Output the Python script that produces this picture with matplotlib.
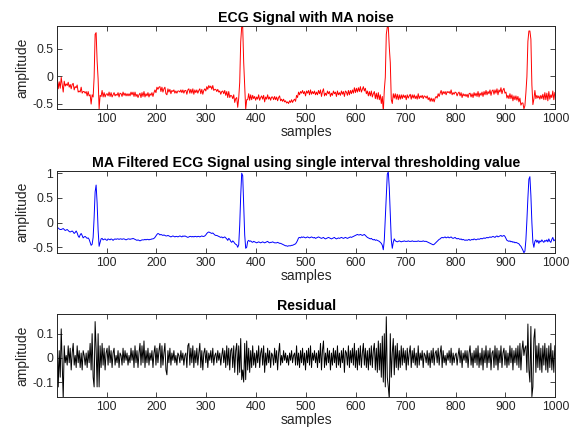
import numpy as np
import matplotlib
matplotlib.use("Agg")
import matplotlib.pyplot as plt

plt.rcParams['font.family'] = ['Liberation Sans', 'DejaVu Sans']
plt.rcParams['axes.unicode_minus'] = False

# sample positions (every 2nd sample of 1..1000)
samples = np.arange(1, 1000, 2)

# MA filtered ECG (blue)
filtered = np.array([
    -0.10,-0.11,-0.13,-0.14,-0.14,-0.13,-0.12,-0.14,-0.16,-0.15,
    -0.14,-0.16,-0.18,-0.19,-0.18,-0.17,-0.19,-0.22,-0.20,-0.17,
    -0.21,-0.27,-0.30,-0.25,-0.22,-0.26,-0.31,-0.29,-0.28,-0.30,
    -0.32,-0.31,-0.34,-0.40,-0.46,-0.44,-0.30,0.10,0.62,0.76,
    0.40,-0.15,-0.48,-0.40,-0.33,-0.32,-0.35,-0.34,-0.33,-0.35,
    -0.36,-0.33,-0.34,-0.35,-0.33,-0.34,-0.36,-0.34,-0.33,-0.34,
    -0.33,-0.33,-0.34,-0.33,-0.33,-0.34,-0.33,-0.33,-0.34,-0.35,
    -0.34,-0.33,-0.33,-0.34,-0.33,-0.33,-0.32,-0.33,-0.34,-0.35,
    -0.36,-0.35,-0.36,-0.37,-0.36,-0.35,-0.35,-0.35,-0.34,-0.35,
    -0.34,-0.34,-0.35,-0.34,-0.34,-0.33,-0.33,-0.32,-0.30,-0.27,
    -0.24,-0.22,-0.23,-0.25,-0.24,-0.25,-0.26,-0.25,-0.26,-0.27,
    -0.27,-0.26,-0.27,-0.28,-0.29,-0.28,-0.27,-0.28,-0.29,-0.28,
    -0.28,-0.29,-0.28,-0.27,-0.28,-0.29,-0.27,-0.28,-0.27,-0.28,
    -0.29,-0.30,-0.29,-0.28,-0.28,-0.29,-0.28,-0.29,-0.28,-0.28,
    -0.29,-0.28,-0.28,-0.29,-0.28,-0.27,-0.28,-0.28,-0.27,-0.25,
    -0.22,-0.20,-0.19,-0.20,-0.21,-0.22,-0.21,-0.23,-0.25,-0.26,
    -0.26,-0.27,-0.28,-0.29,-0.30,-0.29,-0.31,-0.30,-0.29,-0.31,
    -0.33,-0.36,-0.32,-0.34,-0.38,-0.40,-0.37,-0.39,-0.42,-0.44,
    -0.45,-0.50,-0.45,-0.05,0.55,1.00,0.95,0.35,-0.25,-0.52,
    -0.50,-0.38,-0.36,-0.38,-0.37,-0.39,-0.40,-0.38,-0.39,-0.40,
    -0.41,-0.40,-0.39,-0.40,-0.41,-0.40,-0.39,-0.40,-0.41,-0.40,
    -0.39,-0.38,-0.40,-0.41,-0.40,-0.40,-0.39,-0.40,-0.41,-0.41,
    -0.41,-0.40,-0.41,-0.42,-0.42,-0.43,-0.44,-0.45,-0.46,-0.47,
    -0.47,-0.48,-0.47,-0.47,-0.47,-0.46,-0.46,-0.45,-0.44,-0.43,
    -0.40,-0.36,-0.31,-0.30,-0.31,-0.29,-0.30,-0.29,-0.30,-0.31,
    -0.30,-0.29,-0.30,-0.31,-0.30,-0.29,-0.30,-0.31,-0.30,-0.32,
    -0.31,-0.30,-0.29,-0.30,-0.31,-0.32,-0.31,-0.30,-0.32,-0.33,
    -0.32,-0.31,-0.30,-0.31,-0.32,-0.33,-0.32,-0.31,-0.30,-0.32,
    -0.33,-0.32,-0.31,-0.32,-0.31,-0.30,-0.31,-0.32,-0.31,-0.30,
    -0.31,-0.32,-0.31,-0.30,-0.29,-0.30,-0.29,-0.28,-0.27,-0.26,
    -0.25,-0.24,-0.25,-0.25,-0.24,-0.25,-0.26,-0.25,-0.24,-0.26,
    -0.28,-0.30,-0.31,-0.32,-0.33,-0.32,-0.34,-0.35,-0.34,-0.36,
    -0.35,-0.36,-0.37,-0.38,-0.40,-0.42,-0.46,-0.55,-0.35,0.10,
    0.60,0.98,1.03,0.70,0.15,-0.35,-0.52,-0.40,-0.33,-0.37,
    -0.38,-0.39,-0.38,-0.37,-0.38,-0.39,-0.38,-0.38,-0.37,-0.38,
    -0.38,-0.38,-0.37,-0.38,-0.38,-0.38,-0.37,-0.38,-0.38,-0.38,
    -0.38,-0.38,-0.37,-0.38,-0.38,-0.38,-0.38,-0.37,-0.38,-0.38,
    -0.38,-0.39,-0.40,-0.41,-0.42,-0.43,-0.44,-0.45,-0.44,-0.42,
    -0.40,-0.38,-0.36,-0.34,-0.33,-0.31,-0.30,-0.31,-0.30,-0.29,
    -0.31,-0.30,-0.29,-0.31,-0.30,-0.29,-0.31,-0.32,-0.31,-0.30,
    -0.32,-0.33,-0.32,-0.33,-0.34,-0.33,-0.35,-0.34,-0.35,-0.36,
    -0.35,-0.36,-0.35,-0.34,-0.36,-0.35,-0.34,-0.35,-0.33,-0.34,
    -0.35,-0.34,-0.33,-0.34,-0.33,-0.32,-0.33,-0.32,-0.31,-0.32,
    -0.31,-0.30,-0.31,-0.30,-0.29,-0.30,-0.29,-0.28,-0.29,-0.30,
    -0.28,-0.27,-0.29,-0.28,-0.27,-0.26,-0.28,-0.27,-0.26,-0.28,
    -0.32,-0.36,-0.37,-0.38,-0.37,-0.39,-0.38,-0.40,-0.39,-0.41,
    -0.40,-0.41,-0.42,-0.43,-0.46,-0.48,-0.52,-0.56,-0.61,-0.58,
    -0.35,0.05,0.50,0.88,0.93,0.55,0.00,-0.40,-0.50,-0.38,
    -0.35,-0.40,-0.36,-0.42,-0.37,-0.39,-0.35,-0.38,-0.40,-0.36,
    -0.38,-0.35,-0.39,-0.33,-0.38,-0.40,-0.34,-0.30,-0.37,-0.35,
])

# residual = noisy - filtered (bottom panel)
residual = np.array([
    0.07,-0.12,0.03,-0.08,0.12,-0.02,-0.17,0.05,-0.02,0.01,
    -0.03,0.05,-0.02,0.04,-0.05,0.02,0.06,-0.03,0.01,-0.04,
    0.05,-0.02,0.03,-0.04,0.02,-0.05,0.03,0.01,-0.03,0.02,
    -0.04,0.03,-0.02,0.06,-0.05,0.10,-0.08,-0.12,0.15,0.04,
    -0.12,0.10,-0.12,0.05,-0.04,0.06,-0.03,0.04,-0.05,0.02,
    0.04,-0.03,0.05,-0.02,0.03,-0.04,0.02,0.04,-0.03,0.01,
    -0.02,0.03,-0.04,0.02,0.01,-0.03,0.04,-0.02,0.03,-0.01,
    0.02,-0.03,0.01,-0.02,0.04,-0.01,0.03,-0.04,0.05,-0.02,
    0.03,-0.04,0.02,0.06,-0.03,0.05,-0.02,0.07,-0.04,0.03,
    -0.02,0.04,-0.03,0.02,-0.01,0.03,-0.04,0.02,0.05,-0.03,
    0.04,-0.02,0.03,0.06,-0.04,0.05,-0.03,0.02,0.06,-0.05,
    -0.07,0.03,-0.02,0.04,-0.03,0.02,-0.01,0.03,-0.02,0.01,
    -0.03,0.02,0.01,-0.02,0.03,-0.01,0.02,-0.03,0.01,0.02,
    -0.04,0.05,0.06,-0.03,0.04,-0.02,0.05,-0.04,0.03,-0.02,
    0.04,-0.03,0.02,0.06,-0.04,0.03,-0.05,0.02,0.04,-0.02,
    0.03,-0.04,0.02,-0.01,0.03,-0.02,0.04,-0.03,0.01,0.02,
    -0.02,0.03,-0.01,0.02,-0.03,0.01,0.04,-0.02,0.03,-0.04,
    0.05,-0.03,0.04,-0.05,0.03,0.04,-0.04,0.05,-0.06,0.03,
    0.06,-0.07,0.05,-0.06,0.08,-0.09,-0.05,-0.10,0.06,-0.09,
    0.07,-0.05,0.04,-0.06,0.03,-0.04,0.05,-0.03,0.02,-0.04,
    0.03,-0.02,0.05,-0.04,0.02,0.04,-0.03,0.05,-0.06,0.02,
    -0.03,0.04,-0.02,0.03,-0.04,0.02,0.01,-0.03,0.04,-0.02,
    0.03,-0.05,0.02,0.06,-0.03,0.01,-0.02,0.03,-0.01,0.02,
    -0.02,0.01,-0.03,0.02,-0.01,0.03,-0.02,0.01,0.02,-0.03,
    0.05,-0.03,0.02,-0.04,0.03,-0.02,0.04,-0.03,0.02,-0.05,
    0.03,-0.02,0.04,-0.03,0.05,-0.04,0.02,-0.01,0.03,-0.02,
    0.02,-0.04,0.03,-0.02,0.06,-0.05,0.03,0.07,-0.04,0.02,
    -0.03,0.04,-0.02,0.03,-0.05,0.02,-0.03,0.04,-0.02,0.03,
    -0.04,0.05,-0.03,0.02,-0.04,0.03,-0.02,0.04,-0.06,0.03,
    0.02,-0.03,0.05,-0.04,0.03,-0.02,0.04,-0.03,0.06,-0.04,
    0.03,-0.05,0.04,-0.03,0.05,-0.04,0.02,0.06,-0.03,0.04,
    -0.04,0.03,-0.05,0.04,-0.03,0.05,-0.04,0.03,0.06,-0.05,
    0.04,-0.06,0.07,-0.05,0.06,-0.08,0.09,-0.10,0.10,-0.12,
    0.17,-0.08,-0.12,-0.17,0.10,-0.08,0.02,0.08,-0.07,0.05,
    -0.04,0.06,-0.05,0.03,-0.04,0.05,-0.03,0.04,-0.02,0.03,
    -0.05,0.04,-0.03,0.02,0.05,-0.04,0.03,-0.02,0.04,-0.03,
    0.02,-0.04,0.05,-0.03,0.02,-0.01,0.03,-0.04,0.02,0.01,
    -0.02,0.03,-0.03,0.02,-0.04,0.03,-0.02,0.04,-0.03,0.02,
    0.03,-0.02,0.04,-0.03,0.02,0.05,-0.04,0.03,-0.02,0.01,
    -0.03,0.02,-0.01,0.03,-0.02,0.04,-0.03,0.02,-0.02,0.01,
    0.02,-0.03,0.01,0.04,-0.02,0.03,-0.04,0.02,-0.01,0.03,
    -0.02,0.03,-0.04,0.02,0.05,-0.03,0.02,-0.04,0.03,-0.02,
    0.04,-0.03,0.05,-0.04,0.02,-0.03,0.04,-0.05,0.03,-0.02,
    0.05,-0.04,0.03,-0.02,0.04,-0.05,0.02,0.03,-0.04,0.05,
    -0.03,0.04,-0.05,0.03,-0.02,0.05,-0.04,0.02,0.04,-0.03,
    0.03,-0.04,0.02,-0.03,0.05,-0.02,0.04,-0.05,0.03,-0.02,
    0.04,-0.03,0.05,-0.04,0.06,-0.05,0.03,0.07,0.01,0.04,
    0.05,-0.06,0.14,-0.05,-0.10,0.13,-0.16,-0.12,0.08,0.12,
    -0.06,0.05,-0.04,0.06,-0.05,0.04,-0.06,0.05,-0.03,0.06,
    -0.05,0.04,-0.06,0.05,-0.04,0.06,-0.05,0.03,-0.06,0.05,
])

noisy = filtered + residual

titles = ['ECG Signal with MA noise',
          'MA Filtered ECG Signal using single interval thresholding value',
          'Residual']
series = [noisy, filtered, residual]
colors = ['#ff0000', '#0000ff', '#000000']
ylims = [(-0.60, 0.915), (-0.61, 1.05), (-0.163, 0.18)]
yticks = [[-0.5, 0, 0.5], [-0.5, 0, 0.5, 1], [-0.1, 0, 0.1]]
ytlabels = [['-0.5', '0', '0.5'], ['-0.5', '0', '0.5', '1'], ['-0.1', '0', '0.1']]
xticks = [100, 200, 300, 400, 500, 600, 700, 800, 900, 1000]

# axes boxes in figure fractions (left, bottom, width, height)
boxes = [(0.0985, 0.7506, 0.8573, 0.1891),
         (0.0985, 0.4217, 0.8573, 0.1876),
         (0.0985, 0.0908, 0.8573, 0.1899)]

grey = '#262626'
fig = plt.figure(figsize=(5.81, 4.37), dpi=100)
for i in range(3):
    ax = fig.add_axes(boxes[i])
    ax.plot(samples, series[i], color=colors[i], lw=0.7)
    ax.set_xlim(1, 1000)
    ax.set_ylim(*ylims[i])
    ax.set_xticks(xticks)
    ax.set_yticks(yticks[i])
    ax.set_yticklabels(ytlabels[i])
    ax.tick_params(direction='in', top=True, right=True, length=3.5,
                   width=0.6, colors=grey, labelsize=8.8, pad=3)
    for sp in ax.spines.values():
        sp.set_color(grey)
        sp.set_linewidth(0.7)
    ax.set_title(titles[i], fontsize=10.2, fontweight='bold', pad=3)
    ax.set_xlabel('samples', fontsize=10, color=grey, labelpad=0)
    ax.set_ylabel('amplitude', fontsize=10, color=grey, labelpad=2)

fig.savefig('out.png', dpi=100)
